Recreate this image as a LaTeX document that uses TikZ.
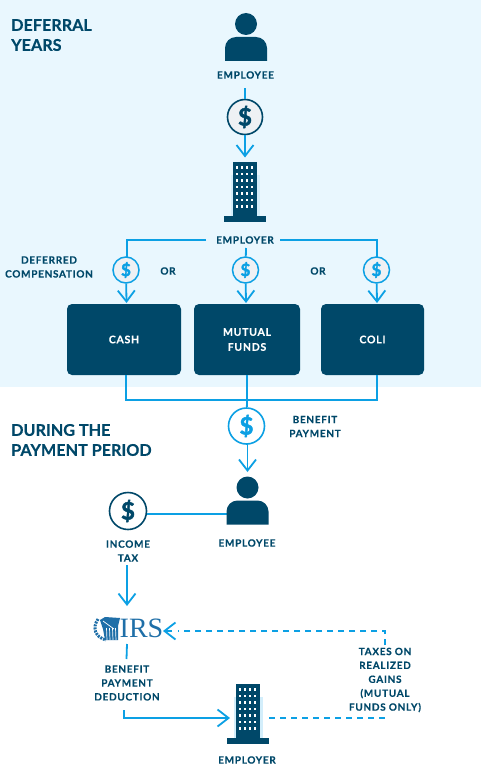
\documentclass[tikz,border=0pt]{standalone}
\usepackage{fontspec}
\setmainfont{Lato}[UprightFont=* Bold,LetterSpace=7,FakeBold=0.25]
\newfontfamily\headfont{Lato}[UprightFont=* Bold,FakeBold=0.4]
\newfontfamily\coinfont{Lato}[UprightFont=* Bold,FakeBold=2]
\newfontfamily\irsfont{Liberation Serif}
\usetikzlibrary{arrows.meta}
\definecolor{navy}{HTML}{004869}
\definecolor{sky}{HTML}{0CA0E4}
\definecolor{pale}{HTML}{E9F7FE}
\definecolor{coin}{HTML}{EEF1F4}
\definecolor{halo}{HTML}{D3EEFB}
\definecolor{irsblue}{HTML}{1F6FA8}
\tikzset{
  conn/.style={draw=sky,line width=1.8pt},
  arr/.style={conn,-{Straight Barb[length=11pt,width=17pt,line width=1.8pt]}},
  dashline/.style={conn,dash pattern=on 6pt off 5pt},
  lbl/.style={text=navy,font=\fontsize{10}{13.9}\selectfont,align=center,inner sep=0pt},
  head/.style={text=navy,font=\headfont\fontsize{16.2}{20}\selectfont,align=left,inner sep=0pt,anchor=west},
  bx/.style={fill=navy,rounded corners=5pt,text=white,font=\fontsize{10.5}{15}\selectfont,align=center,inner sep=0pt},
  coinb/.style={circle,draw=sky,fill=coin,line width=1.5pt,minimum size=26pt,inner sep=0pt,text=sky,font=\coinfont\fontsize{17}{17}\selectfont},
  coinw/.style={circle,draw=sky,fill=white,line width=1.6pt,minimum size=36pt,inner sep=0pt,text=sky,font=\coinfont\fontsize{24}{24}\selectfont},
  coind/.style={circle,draw=navy,fill=coin,line width=1.6pt,minimum size=35pt,inner sep=0pt,text=navy,font=\coinfont\fontsize{24}{24}\selectfont},
  coindw/.style={coind,fill=white,minimum size=37pt}
}
\newcommand{\person}[2]{%
  \fill[navy] (#1,#2-13) circle (11);
  \fill[navy] (#1-21,#2+24) {[rounded corners=11pt] -- (#1-21,#2) -- (#1+21,#2)} -- (#1+21,#2+24) -- cycle;
}
\newcommand{\tower}[2]{% #1 centre x, #2 top y
  \fill[halo] (#1-14,#2+13) rectangle (#1+15,#2+55);
  \fill[navy] (#1-12,#2) rectangle (#1+12,#2+55);
  \fill[navy] (#1-21,#2+54) rectangle (#1+21,#2+60);
  \foreach \r in {0,...,6}{\foreach \c in {0,...,3}{
    \fill[white] (#1-8.2+\c*5-1,#2+4+\r*6.5) rectangle ++(2.6,2.6);}}
}
\begin{document}
\begin{tikzpicture}[x=1pt,y=-1pt]
\useasboundingbox (0,0) rectangle (481,768);
\fill[white] (0,0) rectangle (481,768);
\fill[pale] (0,0) rectangle (481,387);
% headings
\node[head] (h1) at (11,25) {DEFERRAL};
\node[head] (h2) at (11,45) {YEARS};
\node[head] (h3) at (11,430) {DURING THE};
\node[head] (h4) at (11,450) {PAYMENT PERIOD};
% top
\person{246}{37}
\node[lbl] (emp1) at (245.5,75) {EMPLOYEE};
\tower{245}{162}
\node[coind] (c1) at (245,117) {\$};
\coordinate (c1a) at (245,88);
\coordinate (c1b) at (245,157.5);
\draw[conn] (c1a) -- (c1);
\draw[arr] (c1) -- (c1b);
\node[lbl] (er1) at (245,240) {EMPLOYER};
% branch
\coordinate (bl) at (127,240);
\coordinate (br) at (377,240);
\coordinate (bm) at (246,248);
\node[bx,minimum width=114pt,minimum height=71pt] (cash) at (124,339.5) {CASH};
\node[bx,minimum width=106pt,minimum height=71pt] (mf) at (247,339.5) {MUTUAL\\FUNDS};
\node[bx,minimum width=103pt,minimum height=71pt] (coli) at (372.5,339.5) {COLI};
\node[coinb] (d1) at (126,270) {\$};
\node[coinb] (d2) at (245.5,270) {\$};
\node[coinb] (d3) at (376.5,270) {\$};
\draw[conn] (206,240) -- (bl) -- (127,257);
\draw[conn] (280,240) -- (br) -- (377,257);
\draw[conn] (bm) -- (d2);
\draw[arr] (d1) -- (126.5,303);
\draw[arr] (d2) -- (246,303);
\draw[arr] (d3) -- (377,303);
\node[lbl] (dc) at (49,267) {DEFERRED\\COMPENSATION};
\node[lbl] (or1) at (168,271) {OR};
\node[lbl] (or2) at (318,271) {OR};
% merge
\coordinate (m1) at (126,400);
\coordinate (m2) at (247,400);
\coordinate (m3) at (377,400);
\draw[conn] (126,375) -- (m1) -- (m3) -- (377,375);
\draw[conn] (247,375) -- (m2);
\node[coinw] (p) at (246.5,426) {\$};
\draw[conn] (m2) -- (p);
\draw[arr] (247.5,444) -- (247.5,472);
\node[lbl] (bp) at (315,426.5) {BENEFIT\\PAYMENT};
% lower person
\node[coindw] (tax) at (128,511) {\$};
\coordinate (pl) at (228,514);
\draw[conn] (tax.east |- pl) -- (pl);
\person{247.5}{500.5}
\node[lbl] (emp2) at (247,543) {EMPLOYEE};
\node[lbl] (it) at (128,551) {INCOME\\TAX};
\coordinate (t1) at (127,565);
\coordinate (t2) at (127,606);
\draw[arr] (t1) -- (t2);
% IRS
\node[inner sep=0pt,anchor=west,text=irsblue,font=\irsfont\fontsize{28}{28}\selectfont] (irs) at (119.5,628) {IRS};
\begin{scope}[irsblue]
 \draw[dash pattern=on 2pt off 1pt,line width=3pt] (98,619) .. controls (92,628) and (95,637) .. (106,640);
 \fill (105,617) -- (120,618) -- (118,626) -- (118,640) -- (105,640) -- (103,629) -- (100,620) -- cycle;
 \foreach \xx in {106.5,109.5,112.5,115.5}{\draw[white,line width=.7pt] (\xx,628) -- (\xx+.5,640);}
 \draw[white,line width=.7pt] (103,621) -- (114,629);
\end{scope}
\coordinate (q1) at (163,631);
\coordinate (q2) at (385,631);
\coordinate (q3) at (385,645);
\draw[dashline] (q3) -- (q2) -- (178,631);
\draw[arr] (172,631) -- (q1);
\node[lbl] (tg) at (385,680) {TAXES ON\\REALIZED\\GAINS\\(MUTUAL\\FUNDS ONLY)};
\coordinate (i1) at (127,644);
\coordinate (i2) at (126.5,659);
\draw[conn] (i1) -- (i2);
\node[lbl] (bd) at (127,683) {BENEFIT\\PAYMENT\\DEDUCTION};
\tower{248}{684}
\node[lbl] (er2) at (247,760) {EMPLOYER};
\coordinate (k1) at (124,710);
\coordinate (k2) at (124,718);
\coordinate (k3) at (230,718);
\draw[arr] (k1) -- (k2) -- (k3);
\coordinate (k4) at (269,718);
\coordinate (k5) at (385,718);
\draw[dashline] (k4) -- (k5);
\end{tikzpicture}
\end{document}
